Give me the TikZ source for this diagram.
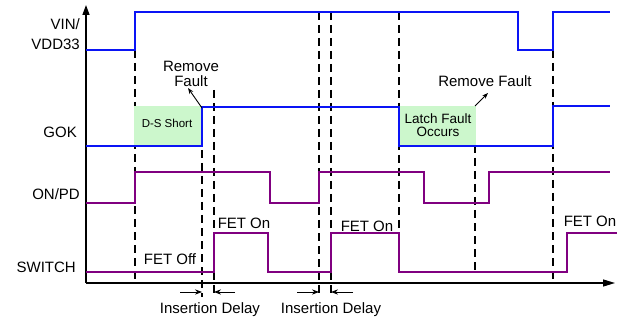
\documentclass[tikz,border=0pt]{standalone}
\usepackage{fontspec}
\setmainfont{Liberation Sans}
\usetikzlibrary{arrows.meta}
\definecolor{vinblue}{RGB}{10,20,245}
\definecolor{sigpurple}{RGB}{128,0,128}
\definecolor{faultgreen}{RGB}{204,247,204}

\begin{document}
\begin{tikzpicture}[x=1pt, y=-1pt,
  lbl/.style={inner sep=0pt, font=\fontsize{15}{17}\selectfont},
  blue sig/.style={vinblue, line width=2.5pt, line join=miter},
  purple sig/.style={sigpurple, line width=2pt, line join=miter},
  mark line/.style={black, line width=1.2pt, dash pattern=on 8pt off 5pt},
  fault/.style={fill=faultgreen, draw=none}]
\useasboundingbox (0,0) rectangle (620,320);
% guide lines
\draw[mark line] (135,50) -- (135,283);
\draw[mark line] (202,150) -- (202,297);
\draw[mark line] (214,90) -- (214,297);
\draw[mark line] (319,12) -- (319,297);
\draw[mark line] (331,12) -- (331,297);
\draw[mark line] (399,12) -- (399,272);
\draw[mark line] (475,106) -- (475,272);
\draw[mark line] (553,50) -- (553,283);
% fault windows
\fill[fault] (134,106) rectangle (202,146);
\fill[fault] (399,106) rectangle (476,146);
% axes
\draw[line width=1.3pt, -{Triangle[width=7pt,length=10pt]}] (86,283) -- (86,5);
\draw[line width=1.3pt, -{Triangle[width=7pt,length=12pt]}] (86,283) -- (615,283);
% signals
\draw[blue sig] (86,50) -- (135,50) -- (135,12) -- (518,12) -- (518,50)
  -- (553,50) -- (553,12) -- (610,12);
\draw[blue sig] (86,146) -- (202,146) -- (202,107) -- (399,107) -- (399,146)
  -- (553,146) -- (553,106) -- (610,106);
\draw[purple sig] (86,203) -- (135,203) -- (135,172) -- (270,172) -- (270,203)
  -- (319,203) -- (319,172) -- (424,172) -- (424,203) -- (489,203)
  -- (489,172) -- (610,172);
\draw[purple sig] (86,272) -- (214,272) -- (214,233) -- (268,233) -- (268,272)
  -- (331,272) -- (331,233) -- (399,233) -- (399,272) -- (567,272)
  -- (567,233) -- (617,233);
% names
\node[lbl, anchor=east, align=right, font=\fontsize{15}{20}\selectfont]
  (vin) at (80,34) {VIN/\\VDD33};
\node[lbl, anchor=base east] (gok) at (77,138) {GOK};
\node[lbl, anchor=base east] (onpd) at (80,200) {ON/PD};
\node[lbl, anchor=base east] (sw) at (76,272) {SWITCH};
% notes
\node[inner sep=0pt, font=\fontsize{11.5}{13}\selectfont, anchor=base]
  (ds) at (167,128) {D-S Short};
\node[inner sep=0pt, align=center, font=\fontsize{13.5}{12.5}\selectfont]
  (latch) at (438,125) {Latch Fault\\Occurs};
\node[lbl, align=center, font=\fontsize{15}{15}\selectfont]
  (rf1) at (191,74) {Remove\\Fault};
\node[lbl, anchor=base] (rf2) at (485,87) {Remove Fault};
\coordinate (g1) at (202,108);
\coordinate (t1) at (188,88);
\coordinate (g2) at (475,106);
\coordinate (t2) at (488,93);
\draw[line width=0.9pt, -{Stealth[length=6pt]}] (g1) -- (t1);
\draw[line width=0.9pt, -{Stealth[length=6pt]}] (g2) -- (t2);
\node[lbl, anchor=base] (off) at (170,264) {FET Off};
\node[lbl, anchor=base] (on1) at (244,229) {FET On};
\node[lbl, anchor=base] (on2) at (367,231) {FET On};
\node[lbl, anchor=base] (on3) at (590,226) {FET On};
% insertion delays
\node[lbl, anchor=base] (id1) at (210,313) {Insertion Delay};
\node[lbl, anchor=base] (id2) at (331,313) {Insertion Delay};
\draw[line width=0.9pt, -{Stealth[length=7pt]}] (180,292) -- (202,292);
\draw[line width=0.9pt, -{Stealth[length=7pt]}] (235,292) -- (214,292);
\draw[line width=0.9pt, -{Stealth[length=7pt]}] (297,292) -- (319,292);
\draw[line width=0.9pt, -{Stealth[length=7pt]}] (353,292) -- (331,292);
\end{tikzpicture}
\end{document}
